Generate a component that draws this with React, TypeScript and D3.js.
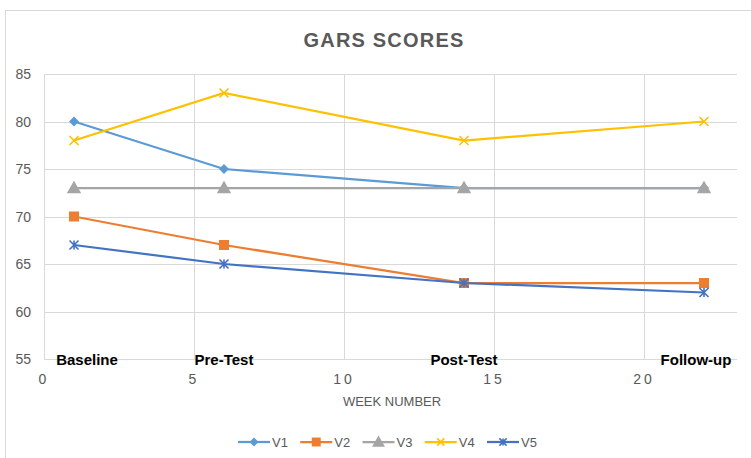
import React, { useEffect, useRef } from 'react';
import * as d3 from 'd3';

const weeks = [1, 6, 14, 22];
const phases = ['Baseline', 'Pre-Test', 'Post-Test', 'Follow-up'];
const seriesNames = ['V1', 'V2', 'V3', 'V4', 'V5'];
const v1 = [80, 75, 73, 73];
const v2 = [70, 67, 63, 63];
const v3 = [73, 73, 73, 73];
const v4 = [78, 83, 78, 80];
const v5 = [67, 65, 63, 62];
const xTicks = [0, 5, 10, 15, 20];
const yTicks = [55, 60, 65, 70, 75, 80, 85];

const colors = ['#5B9BD5', '#ED7D31', '#A5A5A5', '#FFC000', '#4472C4'];
const shapes = ['diamond', 'square', 'triangle', 'x', 'star'];

const width = 751;
const height = 458;
const margin = { top: 74, right: 14, bottom: 99, left: 44 };
const font = '"Liberation Sans", Arial, sans-serif';

const drawMarker = (g: any, shape: string, color: string, cx: number, cy: number, s: number) => {
    if (shape === 'diamond') {
        g.append('path').attr('d', d3.symbol(d3.symbolSquare, s * 5)())
            .attr('transform', `translate(${cx},${cy}) rotate(45)`).attr('fill', color);
    } else if (shape === 'square') {
        g.append('path').attr('d', d3.symbol(d3.symbolSquare, s * 10)())
            .attr('transform', `translate(${cx},${cy})`).attr('fill', color);
    } else if (shape === 'triangle') {
        g.append('path').attr('d', d3.symbol(d3.symbolTriangle, s * 9)())
            .attr('transform', `translate(${cx},${cy + 1})`).attr('fill', color);
    } else if (shape === 'x') {
        const r = s * 0.45;
        g.append('path').attr('d', `M${cx - r},${cy - r}L${cx + r},${cy + r}M${cx - r},${cy + r}L${cx + r},${cy - r}`)
            .attr('stroke', color).attr('stroke-width', 1.6).attr('fill', 'none');
    } else {
        const r = s * 0.45;
        g.append('path').attr('d', `M${cx - r},${cy - r}L${cx + r},${cy + r}M${cx - r},${cy + r}L${cx + r},${cy - r}M${cx},${cy - r}L${cx},${cy + r}`)
            .attr('stroke', color).attr('stroke-width', 1.6).attr('fill', 'none');
    }
};

const App = () => {
    const ref = useRef<SVGSVGElement>(null);

    useEffect(() => {
        const svg = d3.select(ref.current);
        svg.selectAll('*').remove();

        const series = [v1, v2, v3, v4, v5];

        const x = d3.scaleLinear().domain([0, 23.1]).range([margin.left, width - margin.right]);
        const y = d3.scaleLinear().domain([55, 85]).range([height - margin.bottom, margin.top]);

        // chart frame
        svg.append('rect').attr('x', 5.5).attr('y', 10.5).attr('width', 760).attr('height', 460)
            .attr('fill', '#fff').attr('stroke', '#D9D9D9');

        svg.append('text').attr('x', 384).attr('y', 47).attr('text-anchor', 'middle')
            .attr('font-family', font).attr('font-weight', 'bold').attr('font-size', 20)
            .attr('letter-spacing', 1.2).attr('fill', '#595959').text('GARS SCORES');

        // grid
        const grid = svg.append('g').attr('stroke', '#D9D9D9').attr('stroke-width', 1);
        yTicks.forEach(t => {
            grid.append('line').attr('x1', x(0)).attr('x2', x(23.1))
                .attr('y1', Math.round(y(t)) + 0.5).attr('y2', Math.round(y(t)) + 0.5);
        });
        xTicks.forEach(t => {
            grid.append('line').attr('y1', y(55)).attr('y2', y(85))
                .attr('x1', Math.round(x(t)) + 0.5).attr('x2', Math.round(x(t)) + 0.5);
        });

        // axis labels
        const yAxis = svg.append('g');
        yTicks.forEach(t => {
            yAxis.append('text').attr('x', 31).attr('y', y(t) + 5).attr('text-anchor', 'end')
                .attr('font-family', font).attr('font-size', 14).attr('fill', '#595959').text(t);
        });
        const xAxis = svg.append('g');
        xTicks.forEach(t => {
            xAxis.append('text').attr('x', x(t)).attr('y', y(55) + 25).attr('text-anchor', 'middle')
                .attr('font-family', font).attr('font-size', 14).attr('letter-spacing', 3)
                .attr('fill', '#595959').text(t);
        });
        svg.append('text').attr('x', 392).attr('y', 406).attr('text-anchor', 'middle')
            .attr('font-family', font).attr('font-size', 13).attr('fill', '#595959').text('WEEK NUMBER');

        // series
        const line = d3.line<number>().x((d, i) => x(weeks[i])).y(d => y(d));
        series.forEach((vals, si) => {
            const g = svg.append('g');
            g.append('path').datum(vals).attr('d', line).attr('fill', 'none')
                .attr('stroke', colors[si]).attr('stroke-width', 2.25);
            vals.forEach((v, i) => drawMarker(g, shapes[si], colors[si], x(weeks[i]), y(v), 10));
        });

        // phase labels
        phases.forEach((p, i) => {
            const cx = Math.min(Math.max(x(weeks[i]), 87), 696);
            svg.append('text').attr('x', cx).attr('y', y(55) + 6).attr('text-anchor', 'middle')
                .attr('font-family', font).attr('font-weight', 'bold').attr('font-size', 15)
                .attr('fill', '#000').text(p);
        });

        // legend
        const legend = svg.append('g');
        const legendX = d3.scalePoint<string>().domain(seriesNames).range([238, 487]);
        seriesNames.forEach((n, si) => {
            const lx = legendX(n) as number;
            legend.append('line').attr('x1', lx).attr('x2', lx + 32).attr('y1', 442).attr('y2', 442)
                .attr('stroke', colors[si]).attr('stroke-width', 2.25);
            drawMarker(legend, shapes[si], colors[si], lx + 16, 442, 8);
            legend.append('text').attr('x', lx + 34).attr('y', 447).attr('font-family', font)
                .attr('font-size', 13).attr('fill', '#595959').text(n);
        });
    }, []);

    return (
        <svg ref={ref} width={width} height={height} style={{ position: 'absolute', left: 0, top: 0 }} />
    );
};

export default App;
